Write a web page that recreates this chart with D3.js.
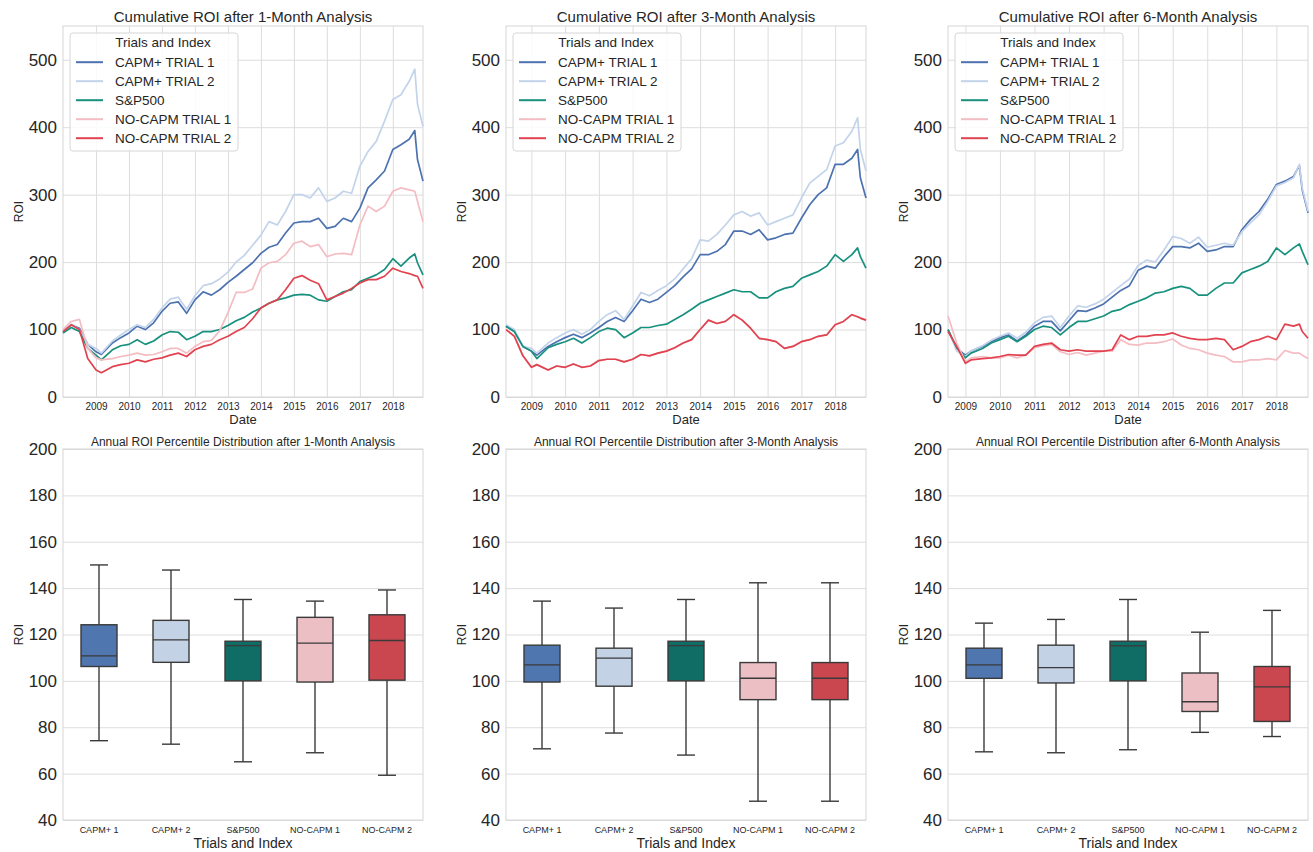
<!DOCTYPE html>
<meta charset="utf-8">
<style>
body { margin: 0; background: #fff; }
svg { font-family: "Liberation Sans", Arial, sans-serif; }
.grid line { stroke: #dddddd; stroke-width: 1; }
.grid path { display: none; }
.axis path { display: none; }
.axis text { fill: #262626; }
.frame { fill: none; stroke: #d6d6d6; }
.series { fill: none; stroke-width: 1.7; stroke-linejoin: round; }
.box { stroke: #3a3a3a; stroke-width: 1.4; }
.whisker { stroke: #3a3a3a; stroke-width: 1.4; }
</style>

<svg width="1313" height="852"></svg>
<script src="https://d3js.org/d3.v7.min.js"></script>
<script>
// dates shared by the cumulative charts (monthly labels)
var dates1 = ["2008-01","2008-04","2008-07","2008-10","2009-01","2009-03","2009-07","2009-10",
  "2010-01","2010-04","2010-07","2010-10","2011-01","2011-04","2011-07","2011-10",
  "2012-01","2012-04","2012-07","2012-10","2013-01","2013-04","2013-07","2013-10",
  "2014-01","2014-04","2014-07","2014-10","2015-01","2015-04","2015-07","2015-10",
  "2016-01","2016-04","2016-07","2016-10","2017-01","2017-04","2017-07","2017-10",
  "2018-01","2018-04","2018-07","2018-09","2018-10","2018-12"];
var dates2 = dates1.slice(1);
var dates3 = dates1.slice(2);

var seriesNames = ["CAPM+ TRIAL 1", "CAPM+ TRIAL 2", "S&P500", "NO-CAPM TRIAL 1", "NO-CAPM TRIAL 2"];
var boxNames = ["CAPM+ 1", "CAPM+ 2", "S&P500", "NO-CAPM 1", "NO-CAPM 2"];
var yearTicks = ["2009","2010","2011","2012","2013","2014","2015","2016","2017","2018"];
var roiTicks = [0, 100, 200, 300, 400, 500];
var boxTicks = [40, 60, 80, 100, 120, 140, 160, 180, 200];

// 1-month analysis
var capm1_m1 = [97,107,102,78,67,63,80,88,95,105,100,110,127,139,141,124,144,156,151,159,170,179,189,199,
  213,222,226,243,258,260,260,265,250,253,265,260,280,310,322,335,367,374,382,395,352,320];
var capm2_m1 = [97,108,100,78,72,65,83,92,100,107,103,115,132,145,148,130,150,165,168,175,185,200,210,225,
  240,260,255,275,300,300,295,310,290,295,305,302,342,364,379,409,441,448,468,486,434,401];
var sp_m1 = [95,103,97,72,62,55,70,76,78,85,78,83,92,97,96,85,90,97,97,100,106,113,118,126,
  132,139,144,147,151,152,151,144,142,149,156,159,171,176,181,189,205,194,206,212,199,181];
var nocapm1_m1 = [100,112,115,72,58,55,57,60,62,65,62,63,67,72,72,65,75,82,84,98,125,155,155,160,
  191,199,201,211,228,231,223,226,208,212,213,211,255,283,275,283,305,310,307,305,290,260];
var nocapm2_m1 = [97,107,100,57,40,36,45,48,50,55,52,56,58,62,65,60,70,75,78,85,90,97,103,116,
  132,139,144,159,176,180,173,168,144,149,154,161,169,174,174,179,191,186,183,180,179,161];

// 3-month analysis
var capm1_m3 = [105,97,75,68,62,75,82,88,93,88,95,103,112,118,112,128,145,140,145,155,165,178,190,
  211,211,216,226,246,246,241,248,233,236,241,243,265,285,300,310,345,345,354,367,325,295];
var capm2_m3 = [107,100,75,72,65,80,88,95,100,93,100,112,122,128,115,135,155,150,158,165,175,190,205,
  233,231,241,255,270,275,268,273,255,260,265,270,295,317,327,337,372,377,394,414,367,335];
var sp_m3 = [105,97,75,68,57,73,78,82,87,80,88,97,102,100,88,95,103,103,106,108,115,122,130,
  139,144,149,154,159,156,156,147,147,156,161,164,176,181,186,194,211,201,211,221,208,191];
var nocapm1_m3 = [100,90,61,44,48,40,46,44,49,44,46,54,56,56,52,56,63,61,65,68,73,80,85,
  100,114,109,112,122,114,102,87,85,82,72,75,82,85,90,92,107,112,122,119,117,114];
var nocapm2_m3 = [100,90,61,44,48,40,46,44,49,44,46,54,56,56,52,56,63,61,65,68,73,80,85,
  100,114,109,112,122,114,102,87,85,82,72,75,82,85,90,92,107,112,122,119,117,114];

// 6-month analysis
var capm1_m6 = [100,72,62,68,75,82,88,92,83,92,105,112,112,98,113,128,127,132,138,148,158,165,
  188,194,191,208,223,223,221,228,216,218,223,223,248,263,275,293,315,320,327,343,307,273];
var capm2_m6 = [100,68,60,68,76,84,90,95,87,96,110,118,120,103,120,135,133,138,145,155,165,175,
  195,203,200,218,238,235,228,237,222,225,228,225,245,258,270,290,313,318,325,345,310,275];
var sp_m6 = [100,73,58,65,72,80,85,90,82,90,100,105,103,92,103,112,112,116,120,127,130,137,
  142,147,154,156,161,164,161,151,151,161,169,169,184,189,194,201,221,211,221,227,216,196];
var nocapm1_m6 = [120,80,52,58,60,58,58,62,58,62,73,76,78,67,63,66,62,65,68,68,85,78,
  77,80,80,82,86,77,72,70,65,62,60,52,52,55,55,57,55,69,65,65,62,57];
var nocapm2_m6 = [97,75,50,55,57,58,60,63,62,62,75,78,80,70,68,70,68,68,68,70,92,85,
  90,90,92,92,95,90,87,85,85,87,85,70,75,82,85,90,85,108,105,108,97,87];

// box stats: [low whisker, q1, median, q3, high whisker]
var box_m1 = [[74.2,106.2,110.8,124.2,150.0],[72.7,108.0,117.7,126.1,147.8],[65.1,100.0,115.2,117.1,135.1],
  [69.0,99.5,116.3,127.4,134.4],[59.3,100.3,117.4,128.5,139.2]];
var box_m3 = [[70.7,99.5,106.9,115.4,134.4],[77.5,97.7,109.8,114.1,131.4],[68.0,100.0,115.2,117.1,135.1],
  [48.1,91.9,101.1,107.9,142.3],[48.1,91.9,101.1,107.9,142.3]];
var box_m6 = [[69.4,101.1,106.9,114.1,124.9],[69.0,99.1,105.7,115.4,126.5],[70.3,100.0,115.1,117.1,135.1],
  [77.8,86.8,91.0,103.4,121.0],[76.0,82.5,97.4,106.2,130.4]];

var lineColors = ["#4c72b0", "#c2d3ea", "#17917e", "#f4bcc3", "#e0434f"];
var boxColors = ["#4f76ae", "#c4d2e5", "#0f6d66", "#ecbfc5", "#ca4750"];

var svg = d3.select("svg"),
    panelLeft = [63, 506, 948],
    plotW = 360, plotH = 371,
    topY = 26, bottomY = 449;

var parseMonth = d3.timeParse("%Y-%m"),
    parseYear = d3.timeParse("%Y");

function renderLines(left, title, dateLabels, series) {
  var dates = dateLabels.map(parseMonth);
  var x = d3.scaleTime().domain(d3.extent(dates)).range([0, plotW]),
      y = d3.scaleLinear().domain([0, 550]).range([plotH, 0]);

  var g = svg.append("g")
      .attr("transform", "translate(" + left + "," + topY + ")");

  g.append("g")
      .attr("class", "grid")
      .call(d3.axisLeft(y).tickValues(roiTicks).tickSize(-plotW).tickFormat(""));

  g.append("g")
      .attr("class", "grid")
      .attr("transform", "translate(0," + plotH + ")")
      .call(d3.axisBottom(x).tickValues(yearTicks.map(parseYear)).tickSize(-plotH).tickFormat(""));

  g.append("rect").attr("class", "frame").attr("width", plotW).attr("height", plotH);

  g.append("g")
      .attr("class", "axis")
      .call(d3.axisLeft(y).tickValues(roiTicks).tickSize(0).tickPadding(6))
      .selectAll("text").style("font-size", "17px");

  g.append("g")
      .attr("class", "axis")
      .attr("transform", "translate(0," + plotH + ")")
      .call(d3.axisBottom(x).tickValues(yearTicks.map(parseYear)).tickSize(0).tickPadding(6)
        .tickFormat(d3.timeFormat("%Y")))
      .selectAll("text").style("font-size", "10px");

  var line = d3.line()
      .x(function(d, i) { return x(dates[i]); })
      .y(function(d) { return y(d); });

  g.selectAll(".series")
    .data(series)
    .enter().append("path")
      .attr("class", "series")
      .attr("stroke", function(d, i) { return lineColors[i]; })
      .attr("d", line);

  g.append("text")
      .attr("x", plotW / 2).attr("y", -4)
      .attr("text-anchor", "middle")
      .style("font-size", "15px").style("fill", "#262626")
      .text(title);

  g.append("text")
      .attr("x", plotW / 2).attr("y", plotH + 26.5)
      .attr("text-anchor", "middle")
      .style("font-size", "13px").style("fill", "#262626")
      .text("Date");

  g.append("text")
      .attr("transform", "translate(-40," + plotH / 2 + ") rotate(-90)")
      .attr("text-anchor", "middle")
      .style("font-size", "12px").style("fill", "#262626")
      .text("ROI");

  // legend
  var lg = g.append("g").attr("transform", "translate(7,7)");
  lg.append("rect")
      .attr("width", 168).attr("height", 118).attr("rx", 3)
      .attr("fill", "#fff").attr("fill-opacity", 0.85)
      .attr("stroke", "#d6d6d6");
  lg.append("text")
      .attr("x", 93).attr("y", 14)
      .attr("text-anchor", "middle")
      .style("font-size", "13.5px").style("fill", "#262626")
      .text("Trials and Index");
  var item = lg.selectAll(".item")
    .data(seriesNames)
    .enter().append("g")
      .attr("class", "item")
      .attr("transform", function(d, i) { return "translate(0," + (33.7 + i * 19) + ")"; });
  item.append("line")
      .attr("x1", 6).attr("x2", 33).attr("y1", -4.5).attr("y2", -4.5)
      .attr("stroke", function(d, i) { return lineColors[i]; })
      .attr("stroke-width", 2);
  item.append("text")
      .attr("x", 45)
      .style("font-size", "13.5px").style("fill", "#262626")
      .text(function(d) { return d; });
}

function renderBoxes(left, title, stats) {
  var x = d3.scaleBand().domain(boxNames).range([0, plotW]),
      y = d3.scaleLinear().domain([40, 200]).range([plotH, 0]);

  var g = svg.append("g")
      .attr("transform", "translate(" + left + "," + bottomY + ")");

  g.append("g")
      .attr("class", "grid")
      .call(d3.axisLeft(y).tickValues(boxTicks).tickSize(-plotW).tickFormat(""));

  g.append("rect").attr("class", "frame").attr("width", plotW).attr("height", plotH);

  g.append("g")
      .attr("class", "axis")
      .call(d3.axisLeft(y).tickValues(boxTicks).tickSize(0).tickPadding(6))
      .selectAll("text").style("font-size", "17px");

  g.append("g")
      .attr("class", "axis")
      .attr("transform", "translate(0," + plotH + ")")
      .call(d3.axisBottom(x).tickSize(0).tickPadding(7))
      .selectAll("text").style("font-size", "9px");

  var bw = x.bandwidth() * 0.5, cw = bw / 2;
  var b = g.selectAll(".bx")
    .data(stats)
    .enter().append("g")
      .attr("class", "bx")
      .attr("transform", function(d, i) { return "translate(" + (x(boxNames[i]) + x.bandwidth() / 2) + ",0)"; });

  b.append("line").attr("class", "whisker")
      .attr("y1", function(d) { return y(d[4]); }).attr("y2", function(d) { return y(d[3]); });
  b.append("line").attr("class", "whisker")
      .attr("y1", function(d) { return y(d[1]); }).attr("y2", function(d) { return y(d[0]); });
  b.append("line").attr("class", "whisker")
      .attr("x1", -cw / 2).attr("x2", cw / 2)
      .attr("y1", function(d) { return y(d[4]); }).attr("y2", function(d) { return y(d[4]); });
  b.append("line").attr("class", "whisker")
      .attr("x1", -cw / 2).attr("x2", cw / 2)
      .attr("y1", function(d) { return y(d[0]); }).attr("y2", function(d) { return y(d[0]); });
  b.append("rect").attr("class", "box")
      .attr("x", -bw / 2).attr("width", bw)
      .attr("y", function(d) { return y(d[3]); })
      .attr("height", function(d) { return y(d[1]) - y(d[3]); })
      .attr("fill", function(d, i) { return boxColors[i]; });
  b.append("line").attr("class", "whisker")
      .attr("x1", -bw / 2).attr("x2", bw / 2)
      .attr("y1", function(d) { return y(d[2]); }).attr("y2", function(d) { return y(d[2]); });

  g.append("text")
      .attr("x", plotW / 2).attr("y", -3)
      .attr("text-anchor", "middle")
      .style("font-size", "12px").style("fill", "#262626")
      .text(title);

  g.append("text")
      .attr("x", plotW / 2).attr("y", plotH + 28)
      .attr("text-anchor", "middle")
      .style("font-size", "14px").style("fill", "#262626")
      .text("Trials and Index");

  g.append("text")
      .attr("transform", "translate(-40," + plotH / 2 + ") rotate(-90)")
      .attr("text-anchor", "middle")
      .style("font-size", "12px").style("fill", "#262626")
      .text("ROI");
}

renderLines(panelLeft[0], "Cumulative ROI after 1-Month Analysis", dates1,
  [capm1_m1, capm2_m1, sp_m1, nocapm1_m1, nocapm2_m1]);
renderLines(panelLeft[1], "Cumulative ROI after 3-Month Analysis", dates2,
  [capm1_m3, capm2_m3, sp_m3, nocapm1_m3, nocapm2_m3]);
renderLines(panelLeft[2], "Cumulative ROI after 6-Month Analysis", dates3,
  [capm1_m6, capm2_m6, sp_m6, nocapm1_m6, nocapm2_m6]);

renderBoxes(panelLeft[0], "Annual ROI Percentile Distribution after 1-Month Analysis", box_m1);
renderBoxes(panelLeft[1], "Annual ROI Percentile Distribution after 3-Month Analysis", box_m3);
renderBoxes(panelLeft[2], "Annual ROI Percentile Distribution after 6-Month Analysis", box_m6);
</script>
